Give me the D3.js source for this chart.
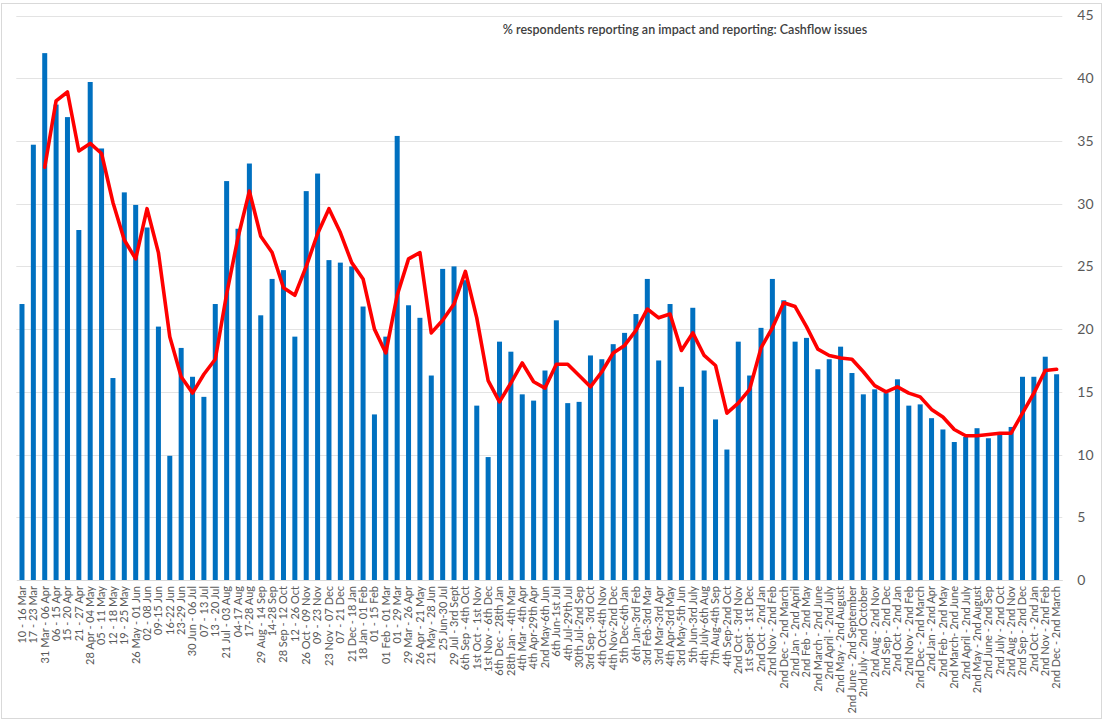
<!DOCTYPE html>
<html>
<head>
<meta charset="utf-8">
<script src="https://cdn.jsdelivr.net/npm/d3@7"></script>
<style>
  html, body { margin: 0; padding: 0; background: #fff; }
  svg { display: block; }
</style>
</head>
<body>
<svg id="chart" width="1103" height="721"></svg>
<script>
// Survey periods (one bar each)
const periods = [
  "10 - 16 Mar", "17 - 23 Mar", "31 Mar - 06 Apr", "06 - 15 Apr", "15 - 20 Apr",
  "21 - 27 Apr", "28 Apr - 04 May", "05 - 11 May", "12 - 18 May", "19 - 25 May",
  "26 May - 01 Jun", "02 - 08 Jun", "09-15 Jun", "16-22 Jun", "23-29 Jun",
  "30 Jun - 06 Jul", "07 - 13 Jul", "13 - 20 Jul", "21 Jul - 03 Aug", "04-17 Aug",
  "17-28 Aug", "29 Aug - 14 Sep", "14-28 Sep", "28 Sep - 12 Oct", "12 - 26 Oct",
  "26 Oct - 09 Nov", "09 - 23 Nov", "23 Nov - 07 Dec", "07 - 21 Dec", "21 Dec - 18 Jan",
  "18 Jan - 01 Feb", "01 - 15 Feb", "01 Feb - 01 Mar", "01 - 29 Mar", "29 Mar - 26 Apr",
  "26 Apr - 21 May", "21 May - 28 Jun", "25 Jun-30 Jul", "29 Jul - 3rd Sept", "6th Sep - 4th Oct",
  "1st Oct - 1st Nov", "1st Nov - 6th Dec", "6th Dec - 28th Jan", "28th Jan - 4th Mar", "4th Mar - 4th Apr",
  "4th Apr-29th Apr", "2nd May-6th Jun", "6th Jun-1st Jul", "4th Jul-29th Jul", "30th Jul-2nd Sep",
  "3rd Sep - 3rd Oct", "4th Oct-4th Nov", "4th Nov-2nd Dec", "5th Dec-6th Jan", "6th Jan-3rd Feb",
  "3rd Feb-3rd Mar", "3rd Mar-3rd Apr", "4th Apr-3rd May", "3rd May-5th Jun", "5th Jun-3rd July",
  "4th July-6th Aug", "7th Aug-4th Sep", "4th Sep-2nd Oct", "2nd Oct - 3rd Nov", "1st Sept - 1st Dec",
  "2nd Oct - 2nd Jan", "2nd Nov - 2nd Feb", "2nd Dec - 2nd March", "2nd Jan - 2nd April", "2nd Feb - 2nd May",
  "2nd March - 2nd June", "2nd April - 2nd July", "2nd May - 2nd August", "2nd June - 2nd September", "2nd July - 2nd October",
  "2nd Aug - 2nd Nov", "2nd Sep - 2nd Dec", "2nd Oct - 2nd Jan", "2nd Nov - 2nd Feb", "2nd Dec - 2nd March",
  "2nd Jan - 2nd Apr", "2nd Feb - 2nd May", "2nd March- 2nd June", "2nd April - 2nd July", "2nd May - 2nd August",
  "2nd June - 2nd Sep", "2nd July - 2nd Oct", "2nd Aug - 2nd Nov", "2nd Sep - 2nd Dec", "2nd Oct - 2nd Jan",
  "2nd Nov - 2nd Feb", "2nd Dec - 2nd March"
];

// % of respondents reporting cashflow issues
const cashflowPct = [
  22.0, 34.7, 42.0, 37.9, 36.9, 27.9, 39.7, 34.4, 16.1, 30.9,
  29.9, 28.1, 20.2, 9.9, 18.5, 16.2, 14.6, 22.0, 31.8, 28.0,
  33.2, 21.1, 24.0, 24.7, 19.4, 31.0, 32.4, 25.5, 25.3, 25.0,
  21.8, 13.2, 19.4, 35.4, 21.9, 20.9, 16.3, 24.8, 25.0, 23.9,
  13.9, 9.8, 19.0, 18.2, 14.8, 14.3, 16.7, 20.7, 14.1, 14.2,
  17.9, 17.6, 18.8, 19.7, 21.2, 24.0, 17.5, 22.0, 15.4, 21.7,
  16.7, 12.8, 10.4, 19.0, 16.3, 20.1, 24.0, 22.3, 19.0, 19.3,
  16.8, 17.6, 18.6, 16.5, 14.8, 15.2, 14.9, 16.0, 13.9, 14.0,
  12.9, 12.0, 11.0, 11.4, 12.1, 11.3, 11.6, 12.2, 16.2, 16.2,
  17.8, 16.4
];

// Trend line (3-period moving average), starting at the third period
const trendStart = 2;
const trendPct = [
  32.9, 38.2, 38.9, 34.2, 34.8, 34.0, 30.1, 27.1, 25.6, 29.6,
  26.1, 19.4, 16.2, 14.9, 16.4, 17.6, 22.8, 27.3, 31.0, 27.4,
  26.1, 23.3, 22.7, 25.0, 27.6, 29.6, 27.7, 25.3, 24.0, 20.0,
  18.1, 22.7, 25.6, 26.1, 19.7, 20.7, 22.0, 24.6, 20.9, 15.9,
  14.2, 15.7, 17.3, 15.8, 15.3, 17.2, 17.2, 16.3, 15.4, 16.6,
  18.1, 18.7, 19.9, 21.6, 20.9, 21.2, 18.3, 19.7, 17.9, 17.1,
  13.3, 14.1, 15.2, 18.5, 20.1, 22.1, 21.8, 20.2, 18.4, 17.9,
  17.7, 17.6, 16.6, 15.5, 15.0, 15.4, 14.9, 14.6, 13.6, 13.0,
  12.0, 11.5, 11.5, 11.6, 11.7, 11.7, 13.3, 14.9, 16.7, 16.8
];

const yTicks = [0, 5, 10, 15, 20, 25, 30, 35, 40, 45];
const title = "% respondents reporting an impact and reporting: Cashflow issues";

const svg = d3.select("#chart");
const W = 1103, H = 721;
const plot = { left: 16.3, right: 1062.3, top: 15.5, bottom: 580 };
const font = "Lato, 'Open Sans', 'Liberation Sans', sans-serif";

// Outer chart frame
svg.append("rect")
  .attr("x", 1.5).attr("y", 3.5)
  .attr("width", W - 3).attr("height", H - 6)
  .attr("fill", "#fff")
  .attr("stroke", "#d9d9d9").attr("stroke-width", 1);

const keys = periods.map((d, i) => i);
const x = d3.scaleBand()
  .domain(keys)
  .range([plot.left, plot.right])
  .paddingInner(0.56)
  .paddingOuter(0.28);

const y = d3.scaleLinear().domain([0, 45]).range([plot.bottom, plot.top]);

// Horizontal gridlines
svg.append("g")
  .selectAll("line")
  .data(yTicks.filter(t => t > 0))
  .join("line")
  .attr("x1", plot.left).attr("x2", plot.right)
  .attr("y1", d => Math.round(y(d)) + 0.5)
  .attr("y2", d => Math.round(y(d)) + 0.5)
  .attr("stroke", "#e3e3e3").attr("stroke-width", 1);

// Right-hand value axis
const yAxis = svg.append("g")
  .attr("transform", `translate(${plot.right},0)`)
  .call(d3.axisRight(y).tickValues(yTicks).tickSize(0).tickPadding(15));
yAxis.select(".domain").remove();
yAxis.selectAll("text")
  .attr("fill", "#595959")
  .style("font-family", font)
  .style("font-size", "14px");

// Bars
svg.append("g")
  .selectAll("rect")
  .data(cashflowPct)
  .join("rect")
  .attr("x", (d, i) => x(i))
  .attr("width", x.bandwidth())
  .attr("y", d => y(d))
  .attr("height", d => y(0) - y(d))
  .attr("fill", "#0070c0");

// Category axis
const xAxis = svg.append("g")
  .attr("transform", `translate(0,${plot.bottom})`)
  .call(d3.axisBottom(x).tickSize(0).tickPadding(6).tickFormat(i => periods[i]));
xAxis.select(".domain")
  .attr("stroke", "#d9d9d9");
xAxis.selectAll("text")
  .attr("fill", "#595959")
  .style("font-family", font)
  .style("font-size", "11px")
  .attr("text-anchor", "end")
  .attr("dy", "0.35em")
  .attr("transform", "rotate(-90)")
  .attr("x", -6)
  .attr("y", 0);

// Trend line
const line = d3.line()
  .x((d, i) => x(i + trendStart) + x.bandwidth() / 2)
  .y(d => y(d));
svg.append("path")
  .datum(trendPct)
  .attr("d", line)
  .attr("fill", "none")
  .attr("stroke", "#ff0000")
  .attr("stroke-width", 3.6)
  .attr("stroke-linejoin", "round")
  .attr("stroke-linecap", "round");

// Chart title
svg.append("text")
  .attr("x", 685).attr("y", 34)
  .attr("text-anchor", "middle")
  .attr("fill", "#404040")
  .style("font-family", font)
  .style("font-size", "12.5px")
  .style("font-weight", "600")
  .text(title);
</script>
</body>
</html>
